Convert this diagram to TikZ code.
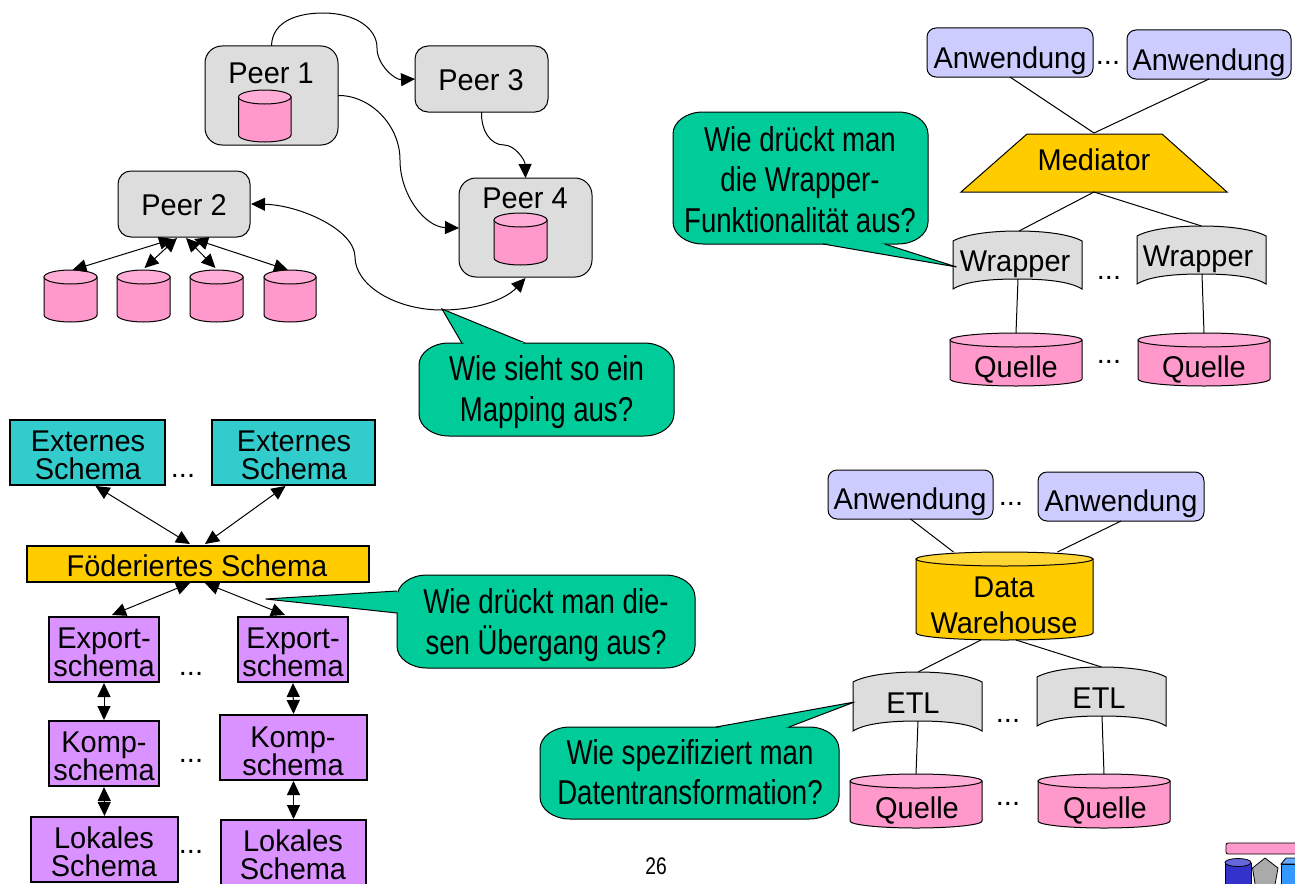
\documentclass[tikz,border=0pt]{standalone}
\usepackage{fontspec}
\setmainfont{Liberation Sans}
\newfontfamily\cfont[FakeStretch=0.8]{Liberation Sans}
\newfontfamily\lfont[FakeStretch=0.965]{Liberation Sans}
\usetikzlibrary{arrows.meta}
\definecolor{pinkb}{HTML}{FF99CC}
\definecolor{pinkt}{HTML}{FFADD6}
\definecolor{greyb}{HTML}{DDDDDD}
\definecolor{tealb}{HTML}{33CCCC}
\definecolor{goldb}{HTML}{FFCC00}
\definecolor{goldt}{HTML}{FFD633}
\definecolor{violb}{HTML}{D992FF}
\definecolor{lavb}{HTML}{CCCCFF}
\definecolor{greenb}{HTML}{00CC99}
\tikzset{
  ln/.style={line width=1pt,draw=black},
  anchorbox/.style={inner sep=0pt,outer sep=0pt},
  solidbox/.style={ln,inner sep=0pt,outer sep=0pt},
  peerbox/.style={solidbox,fill=greyb,rounded corners=17pt},
  peersmall/.style={solidbox,fill=greyb,rounded corners=13pt},
  appbox/.style={solidbox,fill=lavb,rounded corners=9pt},
  extbox/.style={solidbox,fill=tealb,line width=1.3pt},
  fedbox/.style={solidbox,fill=goldb,line width=1.3pt},
  viobox/.style={solidbox,fill=violb,line width=1.3pt},
  lbl/.style={font=\lfont\fontsize{30}{28}\selectfont,inner sep=0pt,align=center,text=black},
  lblone/.style={lbl,text height=21.5pt,text depth=0pt},
  dwlbl/.style={font=\lfont\fontsize{30}{36}\selectfont,inner sep=0pt,align=center},
  dots/.style={font=\fontsize{29}{28}\selectfont,inner sep=0pt,anchor=base},
  clbl/.style={font=\cfont\fontsize{34.5}{40.5}\selectfont,inner sep=0pt,align=center},
  arr/.style={line width=1pt,{Triangle[length=14pt,width=13pt]}-{Triangle[length=14pt,width=13pt]}},
  arrone/.style={line width=1pt,-{Triangle[length=14pt,width=13pt]}},
  plainln/.style={line width=1pt}
}
% named node of exact size, drawn with the given style
\newcommand\Bx[6]{%
  \pgfmathsetmacro\mycx{(#3+#5)/2}\pgfmathsetmacro\mycy{(#4+#6)/2}%
  \pgfmathsetmacro\myw{#5-#3}\pgfmathsetmacro\myh{#6-#4}%
  \node[#2,minimum width=\myw pt,minimum height=\myh pt] (#1) at (\mycx,\mycy) {};}
% cylinder: name, body, top, x1,y1,x2,y2
\newcommand\Cyl[7]{%
  \Bx{#1}{anchorbox}{#4}{#5}{#6}{#7}%
  \pgfmathsetmacro\myrx{(#6-#4)/2}%
  \pgfmathsetmacro\mycx{(#4+#6)/2}%
  \draw[ln,fill=#2] (#4,#5+7) -- (#4,#7-7) arc[start angle=180,end angle=360,x radius=\myrx pt,y radius=7pt] -- (#6,#5+7) -- cycle;
  \draw[ln,fill=#3] (\mycx,#5+7) ellipse[x radius=\myrx pt,y radius=7pt];}
% wrapper document shape
\newcommand\Wrp[5]{%
  \Bx{#1}{anchorbox}{#2}{#3}{#4}{#5}%
  \pgfmathsetmacro\myw{#4-#2}\pgfmathsetmacro\mycx{(#2+#4)/2}%
  \draw[ln,fill=greyb] (#2,#3+10) .. controls (#2+0.1*\myw,#3+3) and (#2+0.3*\myw,#3) .. (\mycx,#3)
     .. controls (#4-0.3*\myw,#3) and (#4-0.1*\myw,#3+3) .. (#4,#3+10)
     -- (#4,#5) .. controls (#4-0.1*\myw,#5-8) and (#4-0.3*\myw,#5-10) .. (\mycx,#5-10)
     .. controls (#2+0.3*\myw,#5-10) and (#2+0.1*\myw,#5-8) .. (#2,#5) -- cycle;}
% callout body with elliptical corners
\newcommand\Cal[5]{%
  \Bx{#1}{anchorbox}{#2}{#3}{#4}{#5}%
  \draw[ln,fill=greenb] (#2+30,#3) -- (#4-30,#3) arc[start angle=90,end angle=0,x radius=30pt,y radius=22pt]
    -- (#4,#5-22) arc[start angle=0,end angle=-90,x radius=30pt,y radius=22pt]
    -- (#2+30,#5) arc[start angle=270,end angle=180,x radius=30pt,y radius=22pt]
    -- (#2,#3+22) arc[start angle=180,end angle=90,x radius=30pt,y radius=22pt] -- cycle;}
% pointer: base a, tip, base b, inner point
\newcommand\Ptr[4]{%
  \fill[greenb] #1 -- #2 -- #3 -- #4 -- cycle;
  \draw[ln] #1 -- #2 -- #3;}
\begin{document}
\begin{tikzpicture}[x=1pt,y=-1pt]
\useasboundingbox (0,0) rectangle (1295,883);
\fill[white] (0,0) rectangle (1295,883);

% ---------- Peer part ----------
\Bx{peerA}{peerbox}{205}{46}{338}{145}
\Bx{peerC}{peersmall}{415}{46}{548}{112}
\Bx{peerD}{peerbox}{459}{178}{592}{277}
\Bx{peerB}{peersmall}{118}{171}{250}{237}
\node[lblone] (peerAt) at (271,73) {Peer 1};
\node[lblone] (peerCt) at (481,80) {Peer 3};
\node[lblone] (peerDt) at (525,198) {Peer 4};
\node[lblone] (peerBt) at (184,205) {Peer 2};
\Cyl{dbA}{pinkb}{pinkt}{238.5}{90}{291}{142}
\Cyl{dbD}{pinkb}{pinkt}{494}{213}{547}{265}
\Cyl{dbB1}{pinkb}{pinkt}{44}{270}{97}{322}
\Cyl{dbB2}{pinkb}{pinkt}{117}{270}{170}{322}
\Cyl{dbB3}{pinkb}{pinkt}{190}{270}{243}{322}
\Cyl{dbB4}{pinkb}{pinkt}{264}{270}{316}{322}
\draw[arr] ([xshift=-11pt,yshift=-2pt]peerB.south) -- ([xshift=2pt]dbB1.north);
\draw[arr] ([xshift=-7pt,yshift=-1pt]peerB.south) -- ([xshift=1pt,yshift=2pt]dbB2.north);
\draw[arr] ([xshift=2pt,yshift=-1pt]peerB.south) -- ([xshift=-1pt,yshift=2pt]dbB3.north);
\draw[arr] ([xshift=10pt,yshift=-2pt]peerB.south) -- ([xshift=-2pt]dbB4.north);
\draw[arrone] (peerA.north) .. controls (272,20) and (300,13) .. (323,13)
   .. controls (355,13) and (377,28) .. (377,48)
   .. controls (377,65) and (395,80) .. (peerC.west);
\draw[arrone] ([yshift=0pt]peerA.east) .. controls (370,95) and (400,125) .. (400,160)
   .. controls (400,195) and (425,227) .. ([yshift=-0.5pt]peerD.west);
\draw[arrone] (peerC.south) .. controls (481,130) and (490,145) .. (504,145)
   .. controls (515,145) and (525,160) .. (peerD.north);
\draw[arr] ([xshift=1pt,yshift=0pt]peerB.east) .. controls (300,205) and (355,230) .. (355,257)
   .. controls (355,285) and (395,310) .. (442,310)
   .. controls (475,310) and (505,300) .. ([yshift=-1pt]peerD.south);

\Ptr{(461.8,343)}{(442,309)}{(525,343)}{(500,350)}
\Cal{cMap}{419}{343}{674}{436}
\fill[greenb] (462.5,342) -- (524,342) -- (520,346) -- (466,346) -- cycle;
\node[clbl] (cMapt) at (546.5,392) {Wie sieht so ein\\Mapping aus?};

% ---------- Mediator part ----------
\Bx{appA}{appbox}{927}{28}{1093}{77}
\Bx{appB}{appbox}{1127}{30}{1291}{79}
\node[lblone] (appAt) at (1010,58) {Anwendung};
\node[lblone] (appBt) at (1209,60) {Anwendung};
\node[dots] (dA) at (1108,64) {...};
\Bx{med}{anchorbox}{961}{134}{1227}{192}
\draw[ln,fill=goldb] (1027,134) -- (1162,134) -- (1227,192) -- (961,192) -- cycle;
\node[lblone] (medt) at (1094,160) {Mediator};
\draw[plainln] (appA.south) -- ([yshift=1pt]med.north);
\draw[plainln] (appB.south) -- ([yshift=1pt]med.north);
\Wrp{wrA}{953}{231}{1082}{289}
\Wrp{wrB}{1137}{226}{1266}{284}
\node[lblone] (wrAt) at (1015,261) {Wrapper};
\node[lblone] (wrBt) at (1198,256) {Wrapper};
\node[dots] (dB) at (1109,279) {...};
\draw[plainln] (med.south) -- ([xshift=1.5pt]wrA.north);
\draw[plainln] (med.south) -- (wrB.north);
\Cyl{qA}{pinkb}{pinkt}{950}{333}{1082}{386}
\Cyl{qB}{pinkb}{pinkt}{1138}{333}{1270}{386}
\node[lblone] (qAt) at (1016,367) {Quelle};
\node[lblone] (qBt) at (1204,367) {Quelle};
\node[dots] (dC) at (1109,363) {...};
\draw[plainln] ([xshift=0.5pt,yshift=10pt]wrA.south) -- (qA.north);
\draw[plainln] ([xshift=0.5pt,yshift=10pt]wrB.south) -- (qB.north);

\Cal{cWrp}{673}{112}{928}{244}
\Ptr{(823,244)}{(956.6,267)}{(884.6,244)}{(860,240)}
\node[clbl] (cWrpt) at (800,179.5) {Wie drückt man\\die Wrapper-\\Funktionalität aus?};

% ---------- Federated part ----------
\Bx{extA}{extbox}{10}{420}{165}{485}
\Bx{extB}{extbox}{212}{420}{375}{485}
\node[lbl] (extAt) at (88,455) {Externes\\Schema};
\node[lbl] (extBt) at (294,455) {Externes\\Schema};
\node[dots] (dD) at (183,477) {...};
\Bx{fed}{fedbox}{27}{546}{369}{582}
\node[lblone] (fedt) at (197,566) {Föderiertes Schema};
\draw[arr] ([xshift=8pt,yshift=-1pt]extA.south) -- ([xshift=-8pt,yshift=2pt]fed.north);
\draw[arr] ([xshift=-8pt,yshift=-1pt]extB.south) -- ([xshift=7pt,yshift=2pt]fed.north);
\Bx{expA}{viobox}{49}{617}{159}{682}
\Bx{expB}{viobox}{238}{617}{348}{682}
\node[lbl] (expAt) at (104,652) {Export-\\schema};
\node[lbl] (expBt) at (293,652) {Export-\\schema};
\node[dots] (dE) at (191,675) {...};
\draw[arr] ([xshift=-8pt,yshift=-1pt]fed.south) -- ([xshift=8pt,yshift=2pt]expA.north);
\draw[arr] ([xshift=7pt,yshift=-1pt]fed.south) -- ([xshift=-8pt,yshift=2pt]expB.north);
\Bx{kmpA}{viobox}{49}{721}{159}{786}
\Bx{kmpB}{viobox}{220}{715}{367}{780}
\node[lbl] (kmpAt) at (104,756) {Komp-\\schema};
\node[lbl] (kmpBt) at (293,751) {Komp-\\schema};
\node[dots] (dF) at (191,762) {...};
\draw[arr] ([yshift=-1pt]expA.south) -- ([yshift=1pt]kmpA.north);
\draw[arr] ([yshift=-1pt]expB.south) -- ([yshift=1pt]kmpB.north);
\Bx{lokA}{viobox}{31}{817}{178}{882}
\Bx{lokB}{viobox}{221}{820}{366}{885}
\node[lbl] (lokAt) at (104,852) {Lokales\\Schema};
\node[lbl] (lokBt) at (293,855) {Lokales\\Schema};
\node[dots] (dG) at (191,853) {...};
\draw[arr] ([yshift=-1pt]kmpA.south) -- ([yshift=1pt]lokA.north);
\draw[arr] ([yshift=-1pt]kmpB.south) -- ([yshift=1pt]lokB.north);

\Cal{cFed}{397}{575}{695}{668}
\Ptr{(397,591)}{(265.6,599)}{(397,613)}{(403,602)}
\node[clbl] (cFedt) at (546,625) {Wie drückt man die-\\sen Übergang aus?};

% ---------- Warehouse part ----------
\Bx{appC}{appbox}{828}{470}{993}{519}
\Bx{appD}{appbox}{1038}{472}{1204}{521}
\node[lblone] (appCt) at (910,499) {Anwendung};
\node[lblone] (appDt) at (1121,501) {Anwendung};
\node[dots] (dH) at (1011,505) {...};
\Cyl{dw}{goldb}{goldt}{916}{552}{1093}{640}
\node[dwlbl] (dwt) at (1004,605.5) {Data\\Warehouse};
\draw[plainln] (appC.south) -- ([xshift=-51pt]dw.north);
\draw[plainln] (appD.south) -- ([xshift=53pt]dw.north);
\Wrp{etA}{853}{672}{982}{731}
\Wrp{etB}{1037}{667}{1166}{726}
\node[lblone] (etAt) at (913,703) {ETL};
\node[lblone] (etBt) at (1099,698) {ETL};
\node[dots] (dI) at (1008,722) {...};
\draw[plainln] ([xshift=-23.5pt]dw.south) -- ([xshift=0.5pt]etA.north);
\draw[plainln] ([xshift=11.5pt]dw.south) -- (etB.north);
\Cyl{qC}{pinkb}{pinkt}{850}{774}{982}{828}
\Cyl{qD}{pinkb}{pinkt}{1038}{774}{1170}{828}
\node[lblone] (qCt) at (917,808) {Quelle};
\node[lblone] (qDt) at (1105,808) {Quelle};
\node[dots] (dJ) at (1008,805) {...};
\draw[plainln] ([xshift=0.5pt,yshift=10pt]etA.south) -- (qC.north);
\draw[plainln] ([xshift=0.5pt,yshift=10pt]etB.south) -- (qD.north);

\Cal{cEtl}{540}{727}{839}{819}
\Ptr{(716,727)}{(854.5,702)}{(789,727)}{(760,733)}
\node[clbl] (cEtlt) at (690,772) {Wie spezifiziert man\\Datentransformation?};

% ---------- Page number and logo ----------
\node[font=\cfont\fontsize{24}{24}\selectfont,inner sep=0pt] (pageno) at (656,866) {26};
\fill[pinkb,draw=black,line width=0.8pt,rounded corners=2pt] (1226,843) rectangle (1300,854);
\fill[fill={rgb,255:red,51;green,51;blue,204},draw=black,line width=0.8pt] (1225,863) -- (1225,890) -- (1251,890) -- (1251,863) -- cycle;
\fill[fill={rgb,255:red,102;green,102;blue,221},draw=black,line width=0.8pt] (1238,862.5) ellipse[x radius=13pt,y radius=4pt];
\fill[fill={rgb,255:red,170;green,170;blue,170},draw=black,line width=0.8pt] (1265,858) -- (1278,868) -- (1274,890) -- (1256,890) -- (1252.5,868) -- cycle;
\fill[fill={rgb,255:red,51;green,153;blue,255},draw=black,line width=0.8pt] (1281,864) rectangle (1300,890);
\fill[fill={rgb,255:red,102;green,170;blue,255},draw=black,line width=0.8pt] (1281,864) -- (1286,858) -- (1300,858) -- (1300,864) -- cycle;
\end{tikzpicture}
\end{document}
